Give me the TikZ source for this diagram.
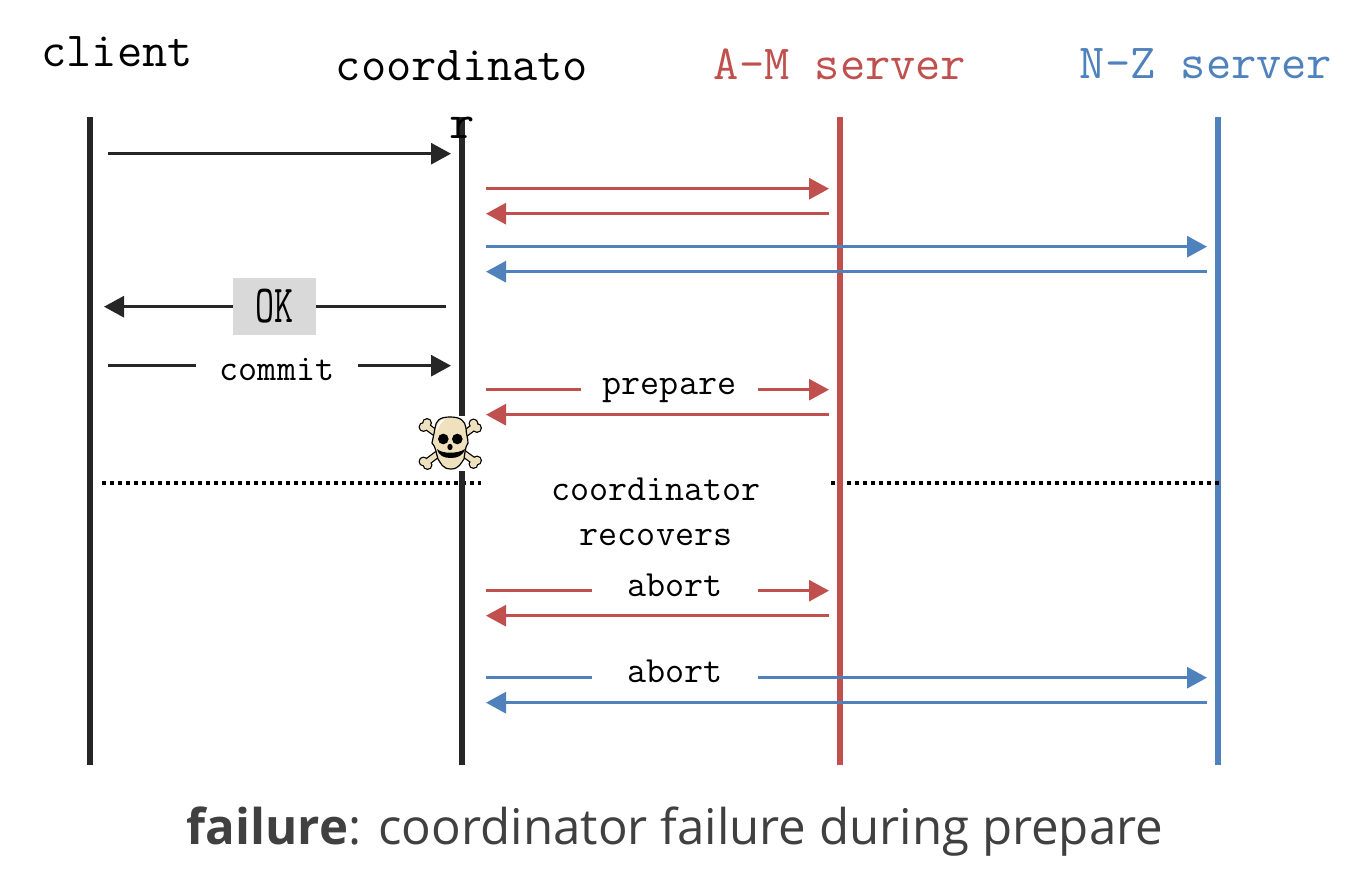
\documentclass[tikz,border=0pt]{standalone}
\usepackage{fontspec}
\usepackage{graphicx}
\setsansfont{Open Sans}
\usetikzlibrary{arrows.meta}
\definecolor{inkblack}{HTML}{262626}
\definecolor{amred}{HTML}{C0504D}
\definecolor{nzblue}{HTML}{4F81BD}
\definecolor{bone}{HTML}{EFE0BE}
\tikzset{
    lifeline/.style={line width=6pt},
    msg/.style={line width=3pt, -{Triangle[length=20pt, width=21pt]}},
    head/.style={font=\fontsize{49}{58}\selectfont\ttfamily, align=center},
    lbl/.style={font=\fontsize{37}{45}\selectfont\ttfamily, fill=white, inner sep=0pt, align=center},
    split/.style={line width=3.5pt, dash pattern=on 4pt off 4pt}
}
\begin{document}
\begin{tikzpicture}[x=1pt, y=-1pt]
    \useasboundingbox (0, 0) rectangle (1363, 890);

    % end points of the lifelines
    \foreach \name/\xx in {cl/89.5, co/462, am/839.5, nz/1218} {
        \coordinate (\name top) at (\xx, 117);
        \coordinate (\name bot) at (\xx, 765);
    }

    % end points of the messages
    \foreach \name/\xx/\yy in {a/108/153.7, b/451/153.7,
        c/486/188.7, d/829/188.7, e/829/213.7, f/486/213.7,
        g/486/246.7, h/1207/246.7, i/1207/271.7, j/486/271.7,
        k/446/306.7, l/104/306.7, m/108/365.7, n/451/365.7,
        o/486/389.7, p/829/389.7, q/829/414.7, r/486/414.7,
        s/486/590.7, t/829/590.7, u/829/615.7, v/486/615.7,
        w/486/677.7, x/1207/677.7, y/1207/702.7, z/486/702.7,
        dl/102/483, dr/1219/483} {
        \coordinate (\name) at (\xx, \yy);
    }

    % dotted split, under the lifelines
    \draw[lifeline, nzblue] (nztop) -- (nzbot);
    \node[font=\fontsize{37}{45}\selectfont\ttfamily, align=center, minimum width=350pt, inner sep=0pt] (recover) at (656, 512) {coordinator\\recovers};
    \draw[split] (dl) -- (recover.west |- dl);
    \draw[split] (recover.east |- dr) -- (dr);

    \draw[lifeline, inkblack] (cltop) -- (clbot);
    \draw[lifeline, inkblack] (cotop) -- (cobot);
    \draw[lifeline, amred] (amtop) -- (ambot);

    % headers
    \node[head] (client) at (117, 52) {client};
    \node[head, anchor=north] (coord) at (462, 47) {coordinato\\r};
    \node[head, text=amred] (amhead) at (840, 64) {A-M server};
    \node[head, text=nzblue] (nzhead) at (1206, 64) {N-Z server};

    \draw[msg, inkblack] (a) -- (b);
    \draw[msg, amred] (c) -- (d);
    \draw[msg, amred] (e) -- (f);
    \draw[msg, nzblue] (g) -- (h);
    \draw[msg, nzblue] (i) -- (j);
    \draw[msg, inkblack] (k) -- (l);
    \draw[msg, inkblack] (m) -- (n);
    \draw[msg, amred] (o) -- (p);
    \draw[msg, amred] (q) -- (r);
    \draw[msg, amred] (s) -- (t);
    \draw[msg, amred] (u) -- (v);
    \draw[msg, nzblue] (w) -- (x);
    \draw[msg, nzblue] (y) -- (z);

    % labels sit on the messages
    \node[lbl, fill=black!15, minimum width=83pt, minimum height=57pt] (ok) at (274.5, 306.5) {\raisebox{-14pt}{\scalebox{1}[1.45]{OK}}};
    \node[lbl, minimum width=162pt, minimum height=30pt] (commit) at (277, 369) {commit};
    \node[lbl, minimum width=177pt, minimum height=30pt] (prepare) at (669.5, 390) {prepare};
    \node[lbl, minimum width=166pt, minimum height=30pt] (abortred) at (675, 585) {abort};
    \node[lbl, minimum width=166pt, minimum height=30pt] (abortblue) at (675, 671) {abort};

    % skull
    \fill[white] (417, 416) rectangle (483, 471);
    \foreach \from/\to/\ea/\eb/\ec/\ed in {
        {(426,426)}/{(474,461)}/{(423.5,427)}/{(427,423)}/{(477,460.5)}/{(473.5,464)},
        {(474,427)}/{(427,462)}/{(473.5,423.5)}/{(477,428)}/{(423.5,461.5)}/{(427.5,465)}} {
        \draw[line width=7.5pt] \from -- \to;
        \fill[black] \ea circle (5pt) \eb circle (5pt) \ec circle (5pt) \ed circle (5pt);
    }
    \foreach \from/\to/\ea/\eb/\ec/\ed in {
        {(426,426)}/{(474,461)}/{(423.5,427)}/{(427,423)}/{(477,460.5)}/{(473.5,464)},
        {(474,427)}/{(427,462)}/{(473.5,423.5)}/{(477,428)}/{(423.5,461.5)}/{(427.5,465)}} {
        \draw[line width=5pt, bone] \from -- \to;
        \fill[bone] \ea circle (3.7pt) \eb circle (3.7pt) \ec circle (3.7pt) \ed circle (3.7pt);
    }
    \draw[fill=bone, line width=1.2pt] (450, 417) .. controls (439, 417) and (436, 421) .. (435, 428)
        .. controls (434, 434) and (433, 438) .. (432, 443)
        .. controls (436, 447) and (436, 453) .. (438, 459)
        .. controls (441, 463) and (442, 469) .. (451, 469)
        .. controls (459, 469) and (461, 463) .. (464, 459)
        .. controls (465, 453) and (465, 447) .. (468, 443)
        .. controls (468, 438) and (466, 434) .. (466, 428)
        .. controls (465, 421) and (461, 417) .. (450, 417) -- cycle;
    \fill[white] (436, 432) .. controls (436, 424) and (440, 420) .. (445, 419)
        .. controls (441, 423) and (438, 427) .. (436, 432) -- cycle;
    \fill[black] (443.3, 439) circle (5.3pt);
    \fill[black] (457.3, 439) circle (5.3pt);
    \fill[black] (450, 447) ellipse (2.6pt and 3.2pt);
    \fill[black] (437, 449) .. controls (442, 454) and (458, 454) .. (465, 449)
        .. controls (463, 456) and (457, 458) .. (451, 458)
        .. controls (444, 458) and (439, 456) .. (437, 449) -- cycle;

    % caption
    \node[font=\fontsize{49.2}{56}\selectfont\sffamily, text=black!75] (caption) at (675, 832) {\textbf{failure}: coordinator failure during prepare};
\end{tikzpicture}
\end{document}
